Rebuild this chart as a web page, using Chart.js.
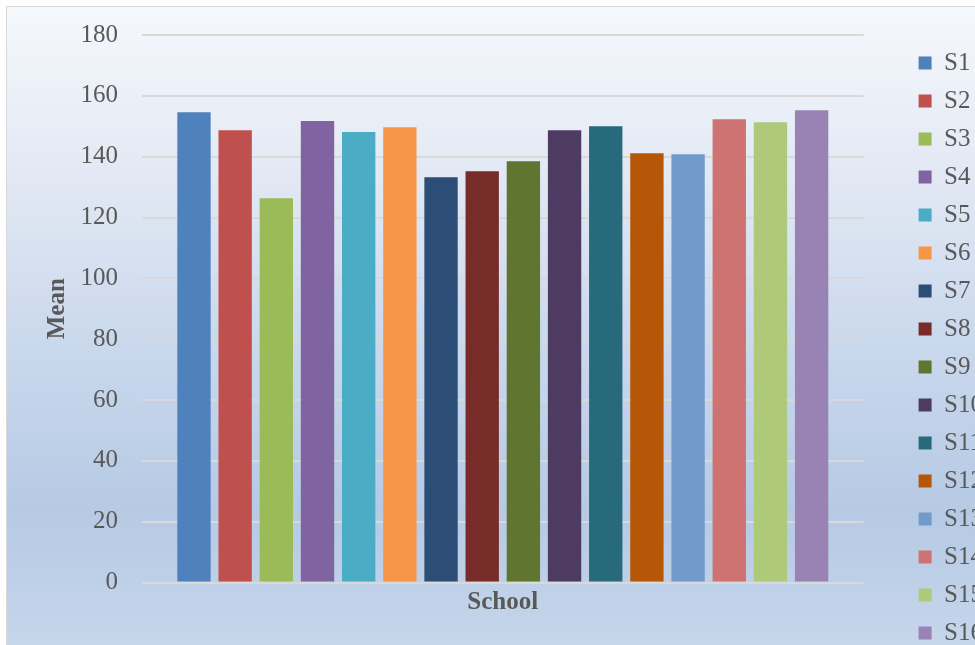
<!DOCTYPE html>
<html>
<head>
<meta charset="utf-8">
<script src="https://cdn.jsdelivr.net/npm/chart.js@4/dist/chart.umd.min.js"></script>
<style>
  html, body { margin: 0; padding: 0; background: #ffffff; overflow: hidden; width: 975px; height: 645px; }
  #frame {
    position: absolute; left: 6px; top: 6px;
    width: 1000px; height: 654px;
    border: 1px solid #d9d9d9;
    background: linear-gradient(to bottom, #f5f8fc 0%, #e3e9f4 25%, #cbd9ed 50%, #b6cae4 77%, #c6d6eb 98%);
  }
  #chart { position: absolute; left: 0; top: 0; }
</style>
</head>
<body>
<div id="frame"><canvas id="chart" width="986" height="654"></canvas></div>
<script>
// School mean scores
const schools = ['S1', 'S2', 'S3', 'S4', 'S5', 'S6', 'S7', 'S8', 'S9', 'S10', 'S11', 'S12', 'S13', 'S14', 'S15', 'S16'];
const means = [154.6, 148.7, 126.3, 151.7, 148.1, 149.7, 133.2, 135.2, 138.5, 148.7, 150.0, 141.1, 140.8, 152.3, 151.3, 155.3];
const palette = ['#4f81bd', '#c0504d', '#9bbb59', '#8064a2', '#4bacc6', '#f79646', '#2c4d75', '#772c2a',
                 '#5f7530', '#4d3b62', '#276a7c', '#b65708', '#729aca', '#cd7371', '#afc97a', '#9983b5'];
const yAxisTitle = 'Mean';
const xAxisTitle = 'School';

const serif = "'Liberation Serif', 'Times New Roman', serif";
const textColor = '#595959';

const datasets = schools.map((name, i) => ({
  label: name,
  data: [means[i]],
  backgroundColor: palette[i],
  borderWidth: 0,
  categoryPercentage: 0.913,
  barPercentage: 0.81
}));

new Chart(document.getElementById('chart'), {
  type: 'bar',
  data: { labels: [''], datasets },
  options: {
    responsive: false,
    animation: false,
    devicePixelRatio: 1,
    layout: { padding: { left: 32, top: 28, right: 0, bottom: 0 } },
    plugins: {
      tooltip: { enabled: false },
      legend: {
        position: 'right',
        labels: {
          boxWidth: 13,
          boxHeight: 13,
          padding: 13,
          color: textColor,
          font: { family: serif, size: 25 }
        }
      }
    },
    scales: {
      x: {
        grid: { display: false, drawTicks: false },
        border: { display: false },
        ticks: { display: false },
        title: {
          display: true, text: xAxisTitle, color: textColor,
          font: { family: serif, size: 25, weight: 'bold' },
          padding: { top: 4, bottom: 43 }
        },
        afterFit: s => { s.height = 78.5; }
      },
      y: {
        min: 0, max: 180,
        grid: { color: '#d9d9d9', lineWidth: 2, drawTicks: false },
        border: { display: false },
        ticks: { stepSize: 20, padding: 24, color: textColor, font: { family: serif, size: 25 } },
        title: {
          display: true, text: yAxisTitle, color: textColor,
          font: { family: serif, size: 25, weight: 'bold' },
          padding: { top: 4, bottom: 4 }
        },
        afterFit: s => { s.width = 103; s.paddingTop = 0; s.paddingBottom = 0; }
      },
      gap: {
        position: 'right',
        display: true,
        grid: { display: false, drawTicks: false },
        border: { display: false },
        ticks: { display: false },
        afterFit: s => { s.width = 42; }
      }
    }
  }
});
</script>
</body>
</html>
